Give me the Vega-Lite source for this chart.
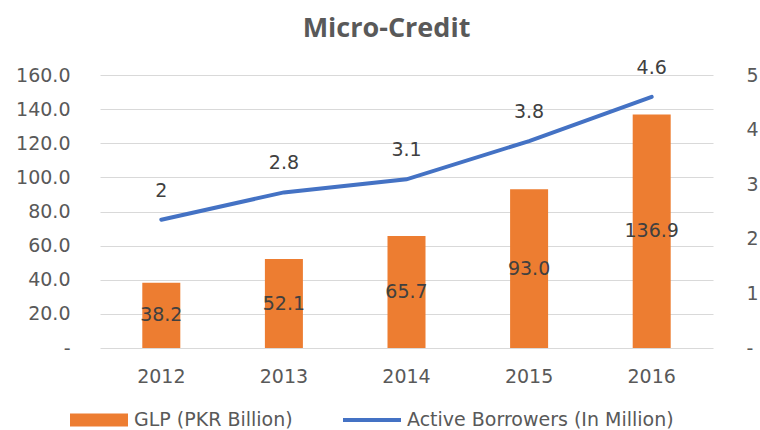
{
  "$schema": "https://vega.github.io/schema/vega-lite/v6.json",
  "width": 613,
  "height": 273,
  "autosize": {"type": "none"},
  "padding": {"left": 100, "top": 75, "right": 47, "bottom": 82},
  "background": "white",
  "title": {
    "text": "Micro-Credit",
    "font": "Open Sans",
    "fontSize": 27,
    "fontWeight": "bold",
    "color": "#595959",
    "anchor": "middle",
    "frame": "group",
    "offset": 16,
    "dx": -20
  },
  "data": {
    "values": [
      {"year": "2012", "glp": 38.2, "glpLabel": "38.2", "borrowers": 2.35, "bLabel": "2"},
      {"year": "2013", "glp": 52.1, "glpLabel": "52.1", "borrowers": 2.85, "bLabel": "2.8"},
      {"year": "2014", "glp": 65.7, "glpLabel": "65.7", "borrowers": 3.09, "bLabel": "3.1"},
      {"year": "2015", "glp": 93.0, "glpLabel": "93.0", "borrowers": 3.79, "bLabel": "3.8"},
      {"year": "2016", "glp": 136.9, "glpLabel": "136.9", "borrowers": 4.6, "bLabel": "4.6"}
    ]
  },
  "encoding": {
    "x": {
      "field": "year",
      "type": "ordinal",
      "scale": {"paddingInner": 0.69, "paddingOuter": 0.345},
      "axis": {
        "title": null,
        "labelAngle": 0,
        "ticks": false,
        "domain": false,
        "labelFont": "DejaVu Sans",
        "labelFontSize": 19,
        "labelColor": "#595959",
        "labelPadding": 19
      }
    }
  },
  "layer": [
    {
      "mark": {"type": "bar", "color": "#ED7D31"},
      "encoding": {
        "y": {
          "field": "glp",
          "type": "quantitative",
          "scale": {"domain": [0, 160], "nice": false},
          "axis": {
            "orient": "left",
            "title": null,
            "values": [0, 20, 40, 60, 80, 100, 120, 140, 160],
            "labelExpr": "datum.value === 0 ? '-\u00a0\u00a0' : format(datum.value, '.1f')",
            "ticks": false,
            "domain": false,
            "grid": true,
            "gridColor": "#D9D9D9",
            "gridWidth": 1.2,
            "labelFont": "DejaVu Sans",
            "labelFontSize": 19,
            "labelColor": "#595959",
            "labelPadding": 30
          }
        },
        "color": {
          "datum": "GLP (PKR Billion)",
          "type": "nominal",
          "scale": {
            "domain": ["GLP (PKR Billion)", "Active Borrowers (In Million)"],
            "range": ["#ED7D31", "#4472C4"]
          },
          "legend": {
            "title": null,
            "orient": "none",
            "legendX": -30,
            "legendY": 316,
            "direction": "horizontal",
            "columns": 2,
            "columnPadding": 50,
            "symbolSize": 3364,
            "symbolStrokeWidth": 0,
            "labelOffset": 6,
            "labelLimit": 400,
            "labelFont": "DejaVu Sans",
            "labelFontSize": 19,
            "labelColor": "#595959",
            "encode": {
              "symbols": {
                "update": {
                  "shape": {"signal": "datum.value === 'GLP (PKR Billion)' ? 'M-1,-0.224H1V0.224H-1Z' : 'M-1,-0.07H1V0.07H-1Z'"},
                  "fill": {"signal": "datum.value === 'GLP (PKR Billion)' ? '#ED7D31' : '#4472C4'"},
                  "stroke": {"value": "transparent"},
                  "strokeWidth": {"value": 0},
                  "opacity": {"value": 1}
                }
              }
            }
          }
        }
      }
    },
    {
      "mark": {"type": "text", "font": "DejaVu Sans", "fontSize": 19, "color": "#404040", "baseline": "middle"},
      "encoding": {
        "y": {"field": "glp", "type": "quantitative", "scale": {"domain": [0, 320], "nice": false}, "axis": null},
        "text": {"field": "glpLabel"}
      }
    },
    {
      "layer": [
        {
          "mark": {"type": "line", "strokeWidth": 4, "strokeCap": "round"},
          "encoding": {
            "y": {
              "field": "borrowers",
              "type": "quantitative",
              "scale": {"domain": [0, 5], "nice": false},
              "axis": {
                "orient": "right",
                "title": null,
                "values": [0, 1, 2, 3, 4, 5],
                "labelExpr": "datum.value === 0 ? '-' : datum.label",
                "ticks": false,
                "domain": false,
                "grid": false,
                "labelFont": "DejaVu Sans",
                "labelFontSize": 19,
                "labelColor": "#595959",
                "labelPadding": 33
              }
            },
            "color": {"datum": "Active Borrowers (In Million)", "type": "nominal"}
          }
        },
        {
          "mark": {"type": "text", "font": "DejaVu Sans", "fontSize": 19, "color": "#404040", "baseline": "middle", "dy": -29},
          "encoding": {
            "y": {"field": "borrowers", "type": "quantitative"},
            "text": {"field": "bLabel"}
          }
        }
      ]
    }
  ],
  "resolve": {"scale": {"y": "independent"}},
  "config": {"view": {"stroke": null}}
}
